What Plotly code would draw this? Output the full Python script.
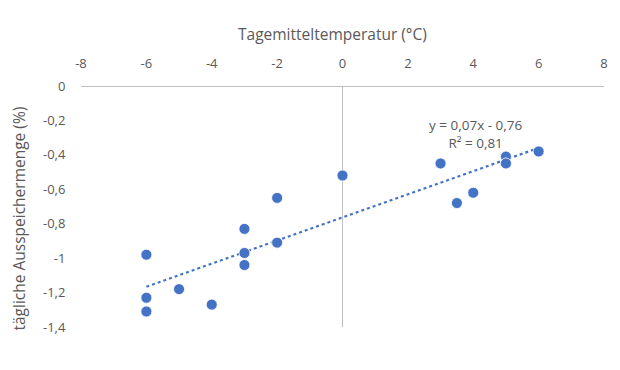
import numpy as np
import plotly.graph_objects as go

temperature = [-6, -6, -6, -5, -4, -3, -3, -3, -2, -2, 0, 3, 3.5, 4, 5, 5, 6]
storage = [-0.98, -1.23, -1.31, -1.18, -1.27, -0.83, -0.97, -1.04, -0.65, -0.91,
           -0.52, -0.45, -0.68, -0.62, -0.41, -0.45, -0.38]

x_ticks = [-8, -6, -4, -2, 0, 2, 4, 6, 8]
x_labels = ["-8", "-6", "-4", "-2", "0", "2", "4", "6", "8"]
y_ticks = [0, -0.2, -0.4, -0.6, -0.8, -1.0, -1.2, -1.4]
y_labels = ["0", "-0,2", "-0,4", "-0,6", "-0,8", "-1", "-1,2", "-1,4"]

eq_text = "y = 0,07x - 0,76"
r2_text = "R² = 0,81"

slope, intercept = np.polyfit(temperature, storage, 1)
xt = np.array([min(temperature), max(temperature)])
yt = slope * xt + intercept

grey = "#595959"
blue = "#4472C4"

fig = go.Figure()
fig.add_trace(go.Scatter(x=xt, y=yt, mode="lines",
                         line=dict(color=blue, width=2.2, dash="dot"),
                         hoverinfo="skip", showlegend=False))
fig.add_trace(go.Scatter(x=temperature, y=storage, mode="markers",
                         marker=dict(color=blue, size=11, line=dict(color="white", width=0.8)),
                         showlegend=False))

fig.update_layout(
    width=620, height=370,
    margin=dict(l=73, r=24, t=78, b=51, autoexpand=False),
    paper_bgcolor="white", plot_bgcolor="white",
    font=dict(family="Open Sans, Noto Sans, sans-serif", color=grey, size=13),
    xaxis=dict(range=[-8, 8], side="top", tickvals=x_ticks, ticktext=x_labels,
               showgrid=False, zeroline=True, zerolinecolor="#BFBFBF", zerolinewidth=1.3,
               showline=False, ticks="outside", ticklen=12, tickcolor="rgba(0,0,0,0)",
               automargin=False, tickfont=dict(size=13, color=grey)),
    yaxis=dict(range=[-1.4, 0], tickvals=y_ticks, ticktext=y_labels,
               showgrid=False, zeroline=True, zerolinecolor="#BFBFBF", zerolinewidth=1.3,
               showline=False, ticks="outside", ticklen=12, tickcolor="rgba(0,0,0,0)",
               automargin=False, tickfont=dict(size=13, color=grey)),
    annotations=[
        dict(text="Tagemitteltemperatur (°C)", xref="paper", yref="paper",
             x=0.48, y=1, yshift=65, showarrow=False, font=dict(size=15.5, color=grey)),
        dict(text="tägliche Ausspeichermenge (%)", xref="paper", yref="paper",
             x=0, xshift=-75, y=0.45, textangle=-90, showarrow=False,
             font=dict(size=15.5, color=grey)),
        dict(text=eq_text + "<br>" + r2_text, xref="x", yref="y",
             x=4.07, y=-0.28, showarrow=False, align="center",
             font=dict(size=13.5, color=grey)),
    ],
)

fig.write_html("out.html")
